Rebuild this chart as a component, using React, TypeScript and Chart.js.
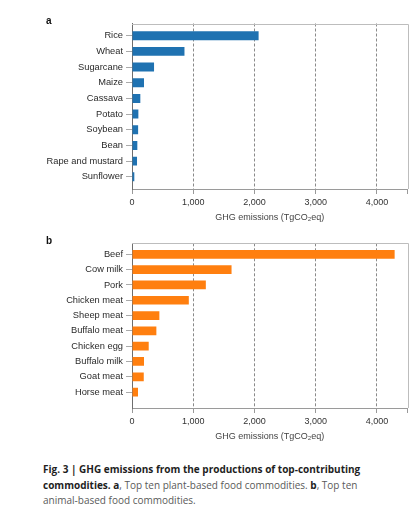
import React, { useEffect, useRef } from "react";
import { Chart, registerables } from "chart.js";

Chart.register(...registerables);

const plantLabels = ["Rice", "Wheat", "Sugarcane", "Maize", "Cassava", "Potato", "Soybean", "Bean", "Rape and mustard", "Sunflower"];
const plantValues = [2068, 857, 360, 196, 136, 104, 100, 87, 82, 38];
const animalLabels = ["Beef", "Cow milk", "Pork", "Chicken meat", "Sheep meat", "Buffalo meat", "Chicken egg", "Buffalo milk", "Goat meat", "Horse meat"];
const animalValues = [4290, 1626, 1206, 928, 447, 398, 273, 196, 192, 98];
const xTicks = [0, 1000, 2000, 3000, 4000, 4500];
const xMax = 4500;

const FONT = "'Liberation Sans', Arial, Helvetica, sans-serif";

const framePlugin = {
  id: "frame",
  afterDraw(chart: any) {
    const { ctx, chartArea } = chart;
    ctx.save();
    ctx.strokeStyle = "#bdbdbd";
    ctx.lineWidth = 1;
    ctx.beginPath();
    ctx.moveTo(chartArea.left, Math.round(chartArea.top) + 0.5);
    ctx.lineTo(Math.round(chartArea.right) + 0.5, Math.round(chartArea.top) + 0.5);
    ctx.lineTo(Math.round(chartArea.right) + 0.5, chartArea.bottom);
    ctx.stroke();
    ctx.restore();
  },
};

function BarPanel(props: {
  labels: string[];
  values: number[];
  color: string;
  height: number;
  padTop: number;
  bottomH: number;
  yMin: number;
  yMax: number;
  titlePadBottom: number;
}) {
  const ref = useRef<HTMLCanvasElement>(null);
  useEffect(() => {
    const { labels, values, color, padTop, bottomH, yMin, yMax, titlePadBottom } = props;
    const chart = new Chart(ref.current!, {
      type: "bar",
      data: {
        datasets: [
          {
            data: values.map((v, i) => ({ x: v, y: i })),
            backgroundColor: color,
            borderWidth: 0,
            barPercentage: 0.57,
            categoryPercentage: 1,
          },
        ],
      },
      options: {
        indexAxis: "y",
        animation: false,
        responsive: false,
        maintainAspectRatio: false,
        layout: { padding: { top: padTop, right: 11.5, left: 0, bottom: 0 } },
        plugins: { legend: { display: false }, tooltip: { enabled: false } },
        scales: {
          x: {
            type: "linear",
            min: 0,
            max: xMax,
            offset: false,
            afterBuildTicks: (scale: any) => {
              scale.ticks = xTicks.map((v) => ({ value: v }));
            },
            afterFit: (scale: any) => {
              scale.height = bottomH;
              scale.paddingLeft = 0;
              scale.paddingRight = 0;
            },
            ticks: {
              font: { family: FONT, size: 9 },
              color: "#333",
              padding: 3,
              maxRotation: 0,
              autoSkip: false,
              callback: (v: any) => (v === xMax ? "" : Number(v).toLocaleString("en-US")),
            },
            grid: {
              offset: false,
              color: (c: any) => (c.tick && (c.tick.value === 0 || c.tick.value === xMax) ? "rgba(0,0,0,0)" : "#8a8a8a"),
              lineWidth: 1,
              drawTicks: true,
              tickLength: 5,
              tickColor: "#999",
              tickBorderDash: [],
            } as any,
            border: { display: true, color: "#9a9a9a", width: 1, dash: [3, 2] } as any,
            title: {
              display: true,
              text: "GHG emissions (TgCO\u2082eq)",
              font: { family: FONT, size: 9 },
              color: "#444",
              padding: { top: 0, bottom: titlePadBottom },
            },
          },
          y: {
            type: "linear",
            reverse: true,
            offset: false,
            min: yMin,
            max: yMax,
            afterBuildTicks: (scale: any) => {
              scale.ticks = labels.map((_, i) => ({ value: i }));
            },
            afterFit: (scale: any) => {
              scale.width = 132;
              scale.paddingTop = 0;
              scale.paddingBottom = 0;
            },
            ticks: {
              font: { family: FONT, size: 9.3 },
              color: "#2a2a2a",
              padding: 3,
              autoSkip: false,
              callback: (v: any) => labels[v] ?? "",
            },
            grid: {
              offset: false,
              drawOnChartArea: false,
              drawTicks: true,
              tickLength: 6,
              tickColor: "#aaaaaa",
            },
            border: { display: true, color: "#6e6e6e", width: 1 },
          },
        },
      },
      plugins: [framePlugin],
    } as any);
    return () => chart.destroy();
  }, []);
  return <canvas ref={ref} width={419} height={props.height} style={{ display: "block", width: 419, height: props.height }} />;
}

export default function App() {
  const bold = { fontWeight: 700, color: "#1e1e1e" };
  return (
    <div style={{ position: "fixed", left: 0, top: 0, width: 419, height: 512, background: "#fff", overflow: "hidden" }}>
      <div style={{ position: "absolute", left: 0, top: 0 }}>
        <BarPanel labels={plantLabels} values={plantValues} color="#1f72b1" height={230} padTop={23.5} bottomH={41} yMin={-0.78} yMax={9.78} titlePadBottom={7} />
      </div>
      <div style={{ position: "absolute", left: 0, top: 230 }}>
        <BarPanel labels={animalLabels} values={animalValues} color="#ff7f0f" height={220} padTop={13.3} bottomH={42} yMin={-0.72} yMax={10.04} titlePadBottom={8} />
      </div>
      <div style={{ position: "absolute", left: 46, top: 15, font: `bold 10px ${FONT}`, color: "#111" }}>a</div>
      <div style={{ position: "absolute", left: 46, top: 235, font: `bold 10px ${FONT}`, color: "#111" }}>b</div>
      <div
        style={{
          position: "absolute",
          left: 43,
          top: 462,
          fontFamily: "'Open Sans', sans-serif",
          fontSize: 10,
          lineHeight: "15.5px",
          color: "#5a5a5a",
          whiteSpace: "nowrap",
        }}
      >
        <span style={bold}>Fig. 3 | GHG emissions from the productions of top-contributing</span>
        <br />
        <span style={bold}>commodities. a</span>, Top ten plant-based food commodities. <span style={bold}>b</span>, Top ten
        <br />
        animal-based food commodities.
      </div>
    </div>
  );
}
